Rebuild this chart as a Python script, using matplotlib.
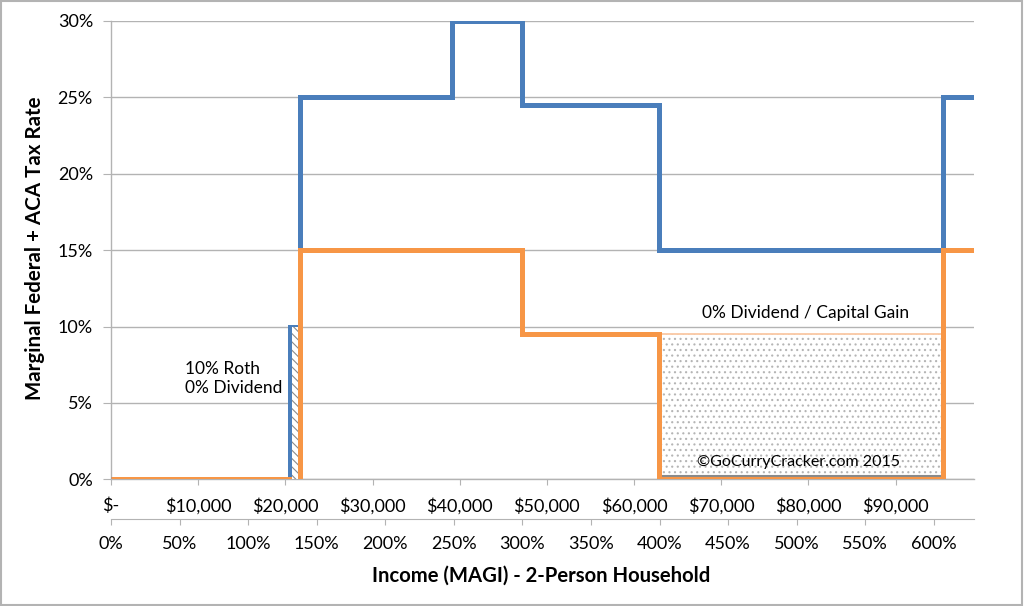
import matplotlib
matplotlib.use("Agg")
import matplotlib.pyplot as plt
from matplotlib.patches import Rectangle
from matplotlib.ticker import FuncFormatter

plt.rcParams['font.family'] = ['Lato', 'DejaVu Sans']

# --- data ---
FPL = 15730  # 100% federal poverty level, 2-person household

blue_edges = [0, 20500, 21700, 39100, 47200, 62850, 95400, 99000]
blue_rates = [0, 10, 25, 30, 24.5, 15, 25]

orange_edges = [0, 21700, 47200, 62850, 95400, 99000]
orange_rates = [0, 15, 9.5, 0, 15]

roth_span = (20800, 21400, 10)        # hatched 10% Roth strip
div_span = (63000, 95400, 9.5)        # 0% dividend / capital gain area

dollar_ticks = list(range(0, 100000, 10000))
pct_ticks = list(range(0, 650, 50))
y_ticks = [0, 5, 10, 15, 20, 25, 30]

BLUE = '#4a7ebb'
ORANGE = '#f79646'
GRID = '#b3b3b3'

fig = plt.figure(figsize=(10.24, 6.06), dpi=100)
ax = fig.add_axes([0.1084, 0.2091, 0.8428, 0.7563])

# shaded areas
plt.rcParams['hatch.linewidth'] = 0.8
ax.add_patch(Rectangle((div_span[0], 0), div_span[1] - div_span[0], div_span[2],
                       facecolor='white', edgecolor='#b5b5b5', linewidth=0,
                       hatch='...', zorder=1))
ax.add_patch(Rectangle((div_span[0], 0), div_span[1] - div_span[0], div_span[2],
                       facecolor='none', edgecolor='#f9c39c', linewidth=1.2, zorder=1.5))
ax.plot([div_span[0], div_span[1]], [0.2, 0.2], color='#8a8a8a', linewidth=1.5, zorder=1.6)

ax.stairs(blue_rates, blue_edges, baseline=None, color=BLUE, linewidth=3.6, zorder=3)
ax.stairs(orange_rates, orange_edges, baseline=None, color=ORANGE, linewidth=3.6, zorder=4)

ax.add_patch(Rectangle((roth_span[0], 0), roth_span[1] - roth_span[0], roth_span[2],
                       facecolor='white', edgecolor='#8a8a8a', linewidth=0,
                       hatch='\\\\\\\\', zorder=4.5))

ax.set_xlim(0, 99000)
ax.set_ylim(0, 30)

ax.set_yticks(y_ticks)
ax.yaxis.set_major_formatter(FuncFormatter(lambda v, p: f"{v:.0f}%"))
ax.set_xticks(dollar_ticks)
ax.xaxis.set_major_formatter(FuncFormatter(lambda v, p: "$-" if v == 0 else f"${v:,.0f}"))

ax.grid(axis='y', color=GRID, linewidth=1.0, zorder=0)
ax.set_axisbelow(True)
for s in ['top', 'right']:
    ax.spines[s].set_visible(False)
for s in ['left', 'bottom']:
    ax.spines[s].set_color(GRID)
    ax.spines[s].set_linewidth(1.0)
ax.tick_params(axis='y', length=6, color=GRID, labelsize=13, pad=7)
ax.tick_params(axis='x', length=4, color=GRID, labelsize=13, pad=9)

# secondary percent-of-FPL axis
sec = ax.secondary_xaxis('bottom', functions=(lambda d: d / FPL * 100, lambda p: p * FPL / 100))
sec.spines['bottom'].set_position(('outward', 28.5))
sec.spines['bottom'].set_color(GRID)
sec.set_xticks(pct_ticks)
sec.xaxis.set_major_formatter(FuncFormatter(lambda v, p: f"{v:.0f}%"))
sec.tick_params(axis='x', length=4, color=GRID, labelsize=13, pad=8)

ax.text(8490, 6.6, "10% Roth\n0% Dividend", fontsize=12.5, ha='left', va='center',
        linespacing=1.3, zorder=5)
ax.text(79700, 10.9, "0% Dividend / Capital Gain", fontsize=12.5, ha='center', va='center', zorder=5)
ax.text(78900, 1.13, "\u00a9GoCurryCracker.com 2015", fontsize=11.5, ha='center', va='center', zorder=5)

fig.text(0.034, 0.59, "Marginal Federal + ACA Tax Rate", rotation=90, fontsize=14.8,
         fontweight='bold', ha='center', va='center')
fig.text(0.528, 0.05, "Income (MAGI) - 2-Person Household", fontsize=14.6,
         fontweight='bold', ha='center', va='center')

# outer frame
fig.patches.append(Rectangle((0.001, 0.002), 0.997, 0.996, transform=fig.transFigure,
                             fill=False, edgecolor='#b3b3b3', linewidth=1.5))

fig.savefig("out.png", dpi=100)
